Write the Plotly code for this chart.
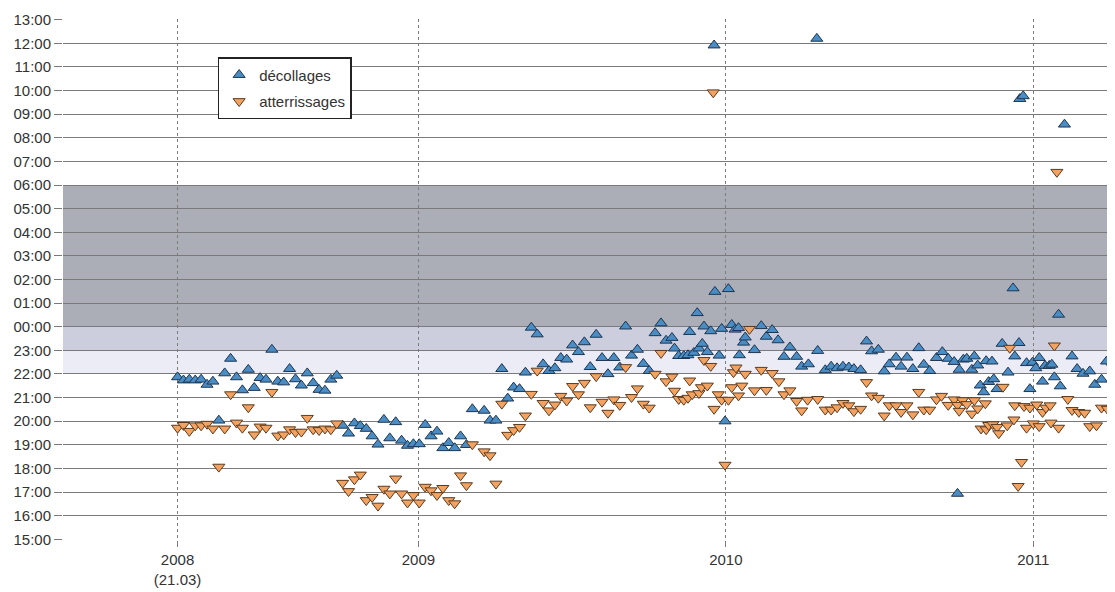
import plotly.graph_objects as go
import pandas as pd

# ---------------- data ----------------
start_date = "2008-03-21"

# décollages: day offset from start_date, time of day
dep_day = [0, 7, 14, 21, 28, 35, 42, 49, 56, 63, 70, 77, 84, 91, 98, 105, 112, 119, 126, 133,
           140, 147, 154, 161, 168, 175, 182, 189, 196, 203, 210, 217, 224, 231, 238, 245, 252,
           259, 266, 273, 280, 287, 294, 301, 308, 315, 322, 329, 336, 343, 350,
           364, 371, 378, 385, 392, 399, 406, 413, 420, 427, 434, 441, 448, 455, 462, 469, 476,
           483, 490, 497, 504, 511, 518, 525, 532, 539, 546, 553, 560, 567, 574,
           580, 587, 590, 595, 601, 606, 608, 613, 617, 619, 623, 625, 629, 633, 637, 638, 643,
           646, 650, 654, 658, 662, 666, 667, 672, 674, 685, 693, 699, 706, 713, 720, 727, 735,
           741, 749, 759, 760, 769, 776, 783, 790, 797, 803, 811, 818, 824, 832, 839, 845, 853,
           859, 866, 873, 880, 886, 893, 901, 908, 915, 922, 926, 928, 933, 937, 943, 946, 950,
           953, 957, 960, 963, 967, 969, 973, 979, 986, 992, 994, 999, 1000, 1004, 1008, 1012,
           1015, 1019, 1023, 1027, 1030, 1035, 1038, 1041, 1046, 1048, 1053, 1062, 1068, 1075,
           1083, 1089, 1097, 1103, 1110]
dep_time = ["21:52", "21:44", "21:46", "21:44", "21:46", "21:33", "21:41", "20:02", "22:02", "22:39",
            "21:52", "21:19", "22:11", "21:25", "21:50", "21:46", "23:02", "21:41", "21:39", "22:13",
            "21:47", "21:31", "22:02", "21:37", "21:20", "21:18", "21:46", "21:56", "19:49", "19:29",
            "19:55", "19:48", "19:41", "19:22", "19:01", "20:04", "19:17", "19:58", "19:11", "18:58",
            "19:02", "19:02", "19:51", "19:22", "19:34", "18:52", "19:05", "18:52", "19:22", "19:00",
            "20:31",
            "20:27", "20:02", "20:02", "22:13", "20:58", "21:26", "21:22", "22:04", "23:58", "23:41",
            "22:25", "22:08", "22:15", "22:41", "22:37", "23:13", "22:56", "23:21", "22:18", "23:40",
            "22:41", "22:00", "22:41", "22:17", "00:01", "22:47", "23:02", "22:26", "22:08", "23:44",
            "00:09",
            "23:25", "23:32", "23:05", "22:46", "22:46", "22:48", "23:47", "22:54", "00:35", "23:05",
            "23:17", "00:01", "22:56", "23:49", "11:55", "01:29", "22:47", "23:55", "20:00", "01:36",
            "00:05", "23:53", "23:57", "22:48", "23:20", "23:33", "23:01", "00:02", "23:35", "23:52",
            "23:26", "22:44", "23:08", "22:44", "22:19", "22:25", "12:12", "22:59", "22:10", "22:19",
            "22:15", "22:19", "22:17", "22:13", "22:10", "23:23", "22:58", "23:02", "22:07", "22:25",
            "22:42", "22:19", "22:42", "22:13", "23:06", "22:24", "22:08", "22:41", "22:56", "22:39",
            "22:31", "16:56", "22:11", "22:37", "22:39", "22:11", "22:45", "22:22", "21:31", "21:14",
            "22:33", "21:40", "22:32", "21:47", "21:22", "23:17", "22:04", "01:38", "22:45", "23:19",
            "09:39", "09:46", "22:28", "21:22", "22:29", "22:15", "22:41", "21:41", "22:21", "22:21",
            "22:24", "21:52", "00:31", "21:29", "08:34", "22:45", "22:13", "22:01", "22:07", "21:33",
            "21:46", "22:32", "22:29"]

# atterrissages
arr_day = [0, 7, 14, 21, 28, 35, 42, 49, 56, 63, 70, 77, 84, 91, 98, 105, 112, 119, 126, 133,
           140, 147, 154, 161, 168, 175, 182, 189, 196, 203, 210, 217, 224, 231, 238, 245, 252,
           259, 266, 273, 280, 287, 294, 301, 308, 315, 322, 329, 336, 343, 350,
           364, 371, 378, 385, 392, 399, 406, 413, 420, 427, 434, 441, 448, 455, 462, 469, 476,
           483, 490, 497, 504, 511, 518, 525, 532, 539, 546, 553, 560, 567, 574,
           580, 587, 590, 595, 601, 606, 608, 611, 619, 622, 625, 629, 633, 636, 637, 642, 646,
           650, 654, 658, 660, 663, 666, 670, 674, 679, 685, 693, 699, 706, 714, 720, 727, 735,
           741, 748, 760, 769, 776, 783, 790, 797, 803, 811, 818, 824, 832, 839, 845, 853, 859,
           866, 873, 880, 886, 893, 901, 907, 915, 922, 926, 928, 932, 937, 943, 946, 950, 954,
           959, 960, 963, 968, 973, 975, 980, 985, 988, 993, 994, 998, 1002, 1005, 1008, 1012,
           1016, 1020, 1023, 1027, 1031, 1036, 1037, 1041, 1044, 1046, 1057, 1062, 1070, 1077,
           1083, 1091, 1097, 1104]
arr_time = ["19:43", "19:50", "19:35", "19:49", "19:49", "19:53", "19:41", "18:04", "19:41", "21:08",
            "19:56", "19:43", "20:35", "19:26", "19:46", "19:43", "21:14", "19:23", "19:26", "19:39",
            "19:32", "19:33", "20:08", "19:39", "19:37", "19:41", "19:39", "19:54", "17:23", "17:02",
            "17:32", "17:44", "16:39", "16:47", "16:25", "17:08", "16:56", "17:34", "16:56", "16:33",
            "16:52", "16:33", "17:13", "17:04", "16:52", "17:10", "16:39", "16:31", "17:42", "17:17",
            "19:01",
            "18:43", "18:33", "17:21", "20:44", "19:25", "19:37", "19:45", "20:14", "21:09", "22:08",
            "20:46", "20:27", "20:42", "21:04", "20:52", "21:29", "21:08", "21:37", "20:35", "21:54",
            "20:49", "20:21", "20:55", "20:41", "22:17", "21:01", "21:23", "20:44", "20:34", "22:00",
            "22:53",
            "21:41", "21:53", "21:17", "20:56", "20:54", "20:59", "21:43", "21:08", "21:11", "21:26",
            "22:35", "21:30", "22:20", "09:55", "20:31", "21:08", "20:54", "18:09", "20:54", "21:26",
            "22:04", "22:16", "21:05", "21:30", "22:00", "23:54", "21:18", "22:10", "21:19", "22:02",
            "21:41", "21:08", "21:18", "20:51", "20:27", "20:54", "20:56", "20:29", "20:29", "20:35",
            "20:46", "20:40", "20:25", "20:31", "21:39", "21:05", "20:59", "20:14", "20:40", "20:40",
            "20:23", "20:40", "20:17", "21:14", "20:29", "20:29", "20:55", "21:04", "20:41", "20:55",
            "20:41", "20:26", "20:53", "20:43", "20:19", "20:53", "20:32", "19:41", "20:45", "19:39",
            "19:50", "19:52", "19:45", "19:29", "21:27", "19:49", "23:06", "20:04", "20:40", "17:15",
            "18:16", "20:38", "19:43", "20:34", "19:54", "20:42", "19:47", "20:23", "20:34", "20:40",
            "19:56", "23:12", "06:33", "19:43", "20:56", "20:28", "20:23", "20:21", "19:47", "19:49",
            "20:34", "20:31"]

y_tick_text = ["15:00", "16:00", "17:00", "18:00", "19:00", "20:00", "21:00", "22:00", "23:00",
               "00:00", "01:00", "02:00", "03:00", "04:00", "05:00", "06:00", "07:00", "08:00",
               "09:00", "10:00", "11:00", "12:00", "13:00"]
x_tick_dates = ["2008-03-21", "2009-01-01", "2010-01-01", "2011-01-01"]
x_tick_text = ["2008<br>(21.03)", "2009", "2010", "2011"]

# ---------------- helpers ----------------
t0 = pd.Timestamp(start_date)


def to_dates(days):
    return [t0 + pd.Timedelta(days=d) for d in days]


def to_hours(times):
    out = []
    for t in times:
        h, m = t.split(":")
        v = int(h) + int(m) / 60.0
        if v < 14:          # after midnight -> following day
            v += 24
        out.append(v)
    return out


y_tick_vals = list(range(15, 15 + len(y_tick_text)))

FONT = "Liberation Sans, Arial, sans-serif"

fig = go.Figure()
fig.add_trace(go.Scatter(
    x=to_dates(dep_day), y=to_hours(dep_time), mode="markers", name="décollages",
    legendgroup="a",
    marker=dict(symbol="triangle-up", size=10.5, color="#4a8dc4",
                line=dict(color="#1d3550", width=1))))
fig.add_trace(go.Scatter(
    x=to_dates(arr_day), y=to_hours(arr_time), mode="markers", name="atterrissages",
    legendgroup="b",
    marker=dict(symbol="triangle-down", size=10.5, color="#f2a261",
                line=dict(color="#5b3a1e", width=1))))

# night bands
bands = [(24, 30, "#abadb7"), (23, 24, "#cdcedd"), (22, 23, "#ececf6")]
for y0, y1, c in bands:
    fig.add_shape(type="rect", xref="paper", x0=0, x1=1, yref="y", y0=y0, y1=y1,
                  fillcolor=c, line=dict(width=0), layer="below")

# the page body adds an 8px margin, so the figure is 8px smaller than the window
fig.update_layout(
    width=1107, height=584,
    margin=dict(l=55, r=0, t=11, b=52),
    paper_bgcolor="white", plot_bgcolor="white",
    font=dict(family=FONT, size=15, color="#333333"),
    showlegend=True,
    legend=dict(x=0.147, y=0.927, xanchor="left", yanchor="top",
                bgcolor="white", bordercolor="#222222", borderwidth=1.5,
                font=dict(family=FONT, size=15, color="#333333"),
                tracegroupgap=4),
    xaxis=dict(type="date", range=["2007-11-06", "2011-04-08"], automargin=False,
               tickmode="array", tickvals=x_tick_dates, ticktext=x_tick_text,
               showgrid=True, gridcolor="#7c7c7c", gridwidth=1, griddash="dot",
               ticks="outside", ticklen=6, tickcolor="#7c7c7c",
               showline=False, zeroline=False,
               tickfont=dict(family=FONT, size=15, color="#333333")),
    yaxis=dict(range=[14.97, 37.03], tickmode="array", tickvals=y_tick_vals,
               ticktext=y_tick_text, automargin=False,
               showgrid=True, gridcolor="#7a7a7a", gridwidth=1,
               ticks="outside", ticklen=8, tickcolor="#7a7a7a",
               showline=False, zeroline=False,
               tickfont=dict(family=FONT, size=15, color="#333333")),
)

fig.write_html("out.html")
